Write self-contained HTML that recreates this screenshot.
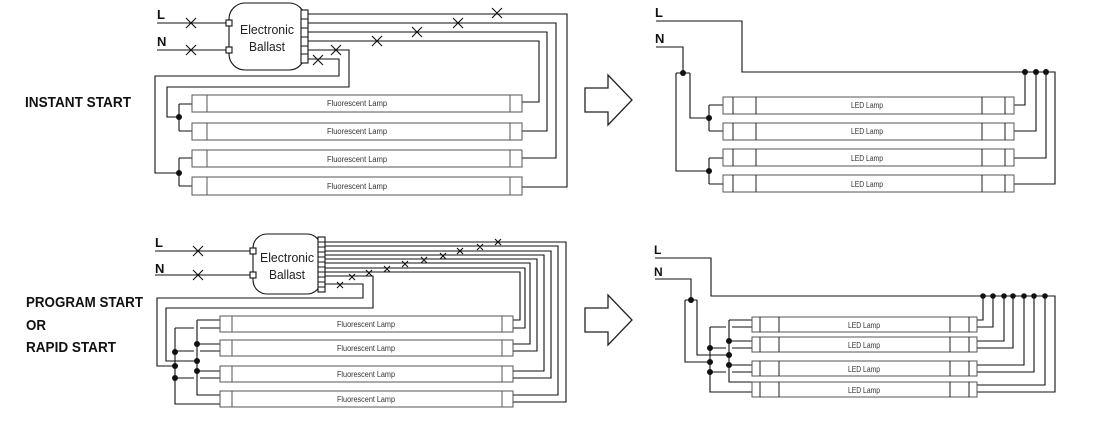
<!DOCTYPE html>
<html><head><meta charset="utf-8"><style>
html,body{margin:0;padding:0;background:#fff;}
svg{display:block;font-family:"Liberation Sans",sans-serif;}
</style></head><body>
<svg width="1094" height="425" viewBox="0 0 1094 425" xmlns="http://www.w3.org/2000/svg">
<g font-weight="bold" font-size="15" fill="#111">
<text x="25" y="107" textLength="106" lengthAdjust="spacingAndGlyphs">INSTANT START</text>
<text x="26" y="307" textLength="117" lengthAdjust="spacingAndGlyphs">PROGRAM START</text>
<text x="26" y="330" textLength="20" lengthAdjust="spacingAndGlyphs">OR</text>
<text x="26" y="352" textLength="90" lengthAdjust="spacingAndGlyphs">RAPID START</text>
<text x="157" y="19" font-size="13">L</text>
<text x="157" y="46" font-size="13">N</text>
<text x="155" y="247" font-size="13">L</text>
<text x="155" y="273" font-size="13">N</text>
<text x="655" y="17" font-size="13">L</text>
<text x="655" y="43" font-size="13">N</text>
<text x="654" y="254" font-size="12">L</text>
<text x="654" y="276" font-size="12">N</text>
</g>

<!-- arrows -->
<g fill="#fff" stroke="#222" stroke-width="1.3">
<polygon points="585,88 608,88 608,75 632,100 608,125 608,112 585,112"/>
<polygon points="585,308 608,308 608,295 632,320 608,345 608,332 585,332"/>
</g>

<g fill="none" stroke="#111" stroke-width="1.1">
<!-- ============ TOP LEFT ============ -->
<path d="M157,23 H228 M157,50 H228"/>
<rect x="229" y="3" width="76" height="67" rx="16"/>
<rect x="226" y="20" width="6" height="6" fill="#fff"/>
<rect x="226" y="47" width="6" height="6" fill="#fff"/>
<rect x="301" y="10" width="7" height="53" fill="#fff"/>
<path d="M301,19 H308 M301,28 H308 M301,37 H308 M301,46 H308 M301,54 H308"/>
<path d="M308,14 H567 V187 H522"/>
<path d="M308,23 H556 V158 H522"/>
<path d="M308,32 H547 V131 H522"/>
<path d="M308,41 H539 V102 H522"/>
<path d="M308,50 H349 V87 H167 V117 H179 M179,104 V131 M179,104 H192 M179,131 H192"/>
<path d="M308,59 H339 V76 H155 V173 H179 M179,158 V186 M179,158 H192 M179,186 H192"/>
<path d="M186,18 L196,28 M196,18 L186,28 M186,45 L196,55 M196,45 L186,55"/>
<path d="M492,8 L502,18 M502,8 L492,18 M453,18 L463,28 M463,18 L453,28 M412,27 L422,37 M422,27 L412,37 M372,36 L382,46 M382,36 L372,46 M331,45 L341,55 M341,45 L331,55 M313,55 L323,65 M323,55 L313,65"/>

<!-- ============ TOP RIGHT ============ -->
<path d="M656,21 H742 V72 H1055 V184 H1014"/>
<path d="M1025,72 V105 H1014 M1036,72 V131 H1014 M1046,72 V158 H1014"/>
<path d="M656,47 H683 V73 M676,73 H690 M676,73 V171 H709 M690,73 V118 H709 M709,105 V131 M709,105 H723 M709,131 H723 M709,158 V184 M709,158 H723 M709,184 H723"/>

<!-- ============ BOTTOM LEFT ============ -->
<path d="M155,251 H251 M155,275 H251"/>
<rect x="253" y="234" width="68" height="60" rx="14"/>
<rect x="250" y="248" width="6" height="6" fill="#fff"/>
<rect x="250" y="272" width="6" height="6" fill="#fff"/>
<rect x="318" y="237" width="7" height="55" fill="#fff"/>
<path d="M318,242 H325 M318,247 H325 M318,252 H325 M318,257 H325 M318,262 H325 M318,267 H325 M318,272 H325 M318,277 H325 M318,282 H325 M318,287 H325"/>
<path d="M325,242 H566 V402 H513"/>
<path d="M325,246 H558 V395 H513"/>
<path d="M325,251 H551 V378 H513"/>
<path d="M325,255 H544 V371 H513"/>
<path d="M325,259 H537 V351 H513"/>
<path d="M325,263 H530 V344 H513"/>
<path d="M325,268 H525 V328 H513"/>
<path d="M325,272 H520 V320 H513"/>
<path d="M325,276 H373 V308 H166 V361 H197"/>
<path d="M325,284 H363 V298 H157 V366 H175"/>
<path d="M197,320 V395 H220 M197,320 H220 M175,328 V404 H220 M175,328 H194 M200,328 H220 M197,344 H220 M175,351 H194 M200,351 H220 M197,371 H220 M200,378 H220 M175,378 H194"/>
<path d="M193,246 L203,256 M203,246 L193,256 M193,270 L203,280 M203,270 L193,280"/>
<path d="M495,239 L501,245 M501,239 L495,245 M477,244 L483,250 M483,244 L477,250 M457,248 L463,254 M463,248 L457,254 M440,253 L446,259 M446,253 L440,259 M421,257 L427,263 M427,257 L421,263 M402,261 L408,267 M408,261 L402,267 M384,266 L390,272 M390,266 L384,272 M366,270 L372,276 M372,270 L366,276 M349,274 L355,280 M355,274 L349,280 M337,282 L343,288 M343,282 L337,288"/>

<!-- ============ BOTTOM RIGHT ============ -->
<path d="M655,258 H711 V296 H1055 V392 H977"/>
<path d="M983,296 V320 H977 M993,296 V327 H977 M1004,296 V341 H977 M1013,296 V348 H977 M1024,296 V365 H977 M1034,296 V372 H977 M1045,296 V385 H977"/>
<path d="M655,279 H691 V300 M685,300 H697 M685,300 V362 H710 M697,300 V355 H729"/>
<path d="M729,320 V382 H752 M729,320 H752 M710,327 V392 H752 M710,327 H726 M732,327 H752 M729,341 H752 M710,348 H726 M732,348 H752 M729,365 H752 M710,372 H726 M732,372 H752"/>
</g>

<!-- dots -->
<g fill="#111">
<circle cx="179" cy="117" r="3"/><circle cx="179" cy="173" r="3"/>
<circle cx="683" cy="73" r="3"/><circle cx="709" cy="118" r="3"/><circle cx="709" cy="171" r="3"/>
<circle cx="1025" cy="72" r="3"/><circle cx="1036" cy="72" r="3"/><circle cx="1046" cy="72" r="3"/>
<circle cx="197" cy="344" r="3"/><circle cx="197" cy="361" r="3"/><circle cx="197" cy="371" r="3"/>
<circle cx="175" cy="352" r="3"/><circle cx="175" cy="366" r="3"/><circle cx="175" cy="378" r="3"/>
<circle cx="691" cy="300" r="3"/>
<circle cx="729" cy="341" r="3"/><circle cx="729" cy="355" r="3"/><circle cx="729" cy="365" r="3"/>
<circle cx="710" cy="348" r="3"/><circle cx="710" cy="362" r="3"/><circle cx="710" cy="372" r="3"/>
<circle cx="983" cy="296" r="2.8"/><circle cx="993" cy="296" r="2.8"/><circle cx="1004" cy="296" r="2.8"/><circle cx="1013" cy="296" r="2.8"/><circle cx="1024" cy="296" r="2.8"/><circle cx="1034" cy="296" r="2.8"/><circle cx="1045" cy="296" r="2.8"/>
</g>

<!-- Ballast text -->
<g font-size="13" fill="#222" text-anchor="middle">
<text x="267" y="34" textLength="54" lengthAdjust="spacingAndGlyphs">Electronic</text>
<text x="267" y="51" textLength="36" lengthAdjust="spacingAndGlyphs">Ballast</text>
<text x="287" y="262" textLength="54" lengthAdjust="spacingAndGlyphs">Electronic</text>
<text x="287" y="279" textLength="36" lengthAdjust="spacingAndGlyphs">Ballast</text>
</g>

<!-- Lamps -->
<g fill="#fff" stroke="#555" stroke-width="1">
<!-- top-left fluorescent -->
<rect x="192" y="95" width="330" height="17"/><rect x="192" y="123" width="330" height="17"/><rect x="192" y="150" width="330" height="17"/><rect x="192" y="177" width="330" height="18"/>
<path d="M207,95 V112 M510,95 V112 M207,123 V140 M510,123 V140 M207,150 V167 M510,150 V167 M207,177 V195 M510,177 V195"/>
<!-- top-right LED -->
<rect x="723" y="97" width="291" height="17"/><rect x="723" y="123" width="291" height="17"/><rect x="723" y="149" width="291" height="17"/><rect x="723" y="175" width="291" height="17"/>
<path stroke="#222" d="M733,97 V114 M756,97 V114 M982,97 V114 M1005,97 V114 M733,123 V140 M756,123 V140 M982,123 V140 M1005,123 V140 M733,149 V166 M756,149 V166 M982,149 V166 M1005,149 V166 M733,175 V192 M756,175 V192 M982,175 V192 M1005,175 V192"/>
<!-- bottom-left fluorescent -->
<rect x="220" y="316" width="293" height="16"/><rect x="220" y="340" width="293" height="16"/><rect x="220" y="366" width="293" height="16"/><rect x="220" y="391" width="293" height="16"/>
<path d="M232,316 V332 M502,316 V332 M232,340 V356 M502,340 V356 M232,366 V382 M502,366 V382 M232,391 V407 M502,391 V407"/>
<!-- bottom-right LED -->
<rect x="752" y="317" width="225" height="15"/><rect x="752" y="337" width="225" height="15"/><rect x="752" y="361" width="225" height="15"/><rect x="752" y="382" width="225" height="15"/>
<path stroke="#222" d="M760,317 V332 M779,317 V332 M950,317 V332 M969,317 V332 M760,337 V352 M779,337 V352 M950,337 V352 M969,337 V352 M760,361 V376 M779,361 V376 M950,361 V376 M969,361 V376 M760,382 V397 M779,382 V397 M950,382 V397 M969,382 V397"/>
</g>

<g font-size="8" fill="#333" text-anchor="middle">
<text x="357" y="106" textLength="60" lengthAdjust="spacingAndGlyphs">Fluorescent Lamp</text>
<text x="357" y="134" textLength="60" lengthAdjust="spacingAndGlyphs">Fluorescent Lamp</text>
<text x="357" y="162" textLength="60" lengthAdjust="spacingAndGlyphs">Fluorescent Lamp</text>
<text x="357" y="189" textLength="60" lengthAdjust="spacingAndGlyphs">Fluorescent Lamp</text>
<text x="366" y="327" textLength="58" lengthAdjust="spacingAndGlyphs">Fluorescent Lamp</text>
<text x="366" y="351" textLength="58" lengthAdjust="spacingAndGlyphs">Fluorescent Lamp</text>
<text x="366" y="377" textLength="58" lengthAdjust="spacingAndGlyphs">Fluorescent Lamp</text>
<text x="366" y="402" textLength="58" lengthAdjust="spacingAndGlyphs">Fluorescent Lamp</text>
<text x="867" y="108" textLength="32" lengthAdjust="spacingAndGlyphs">LED Lamp</text>
<text x="867" y="134" textLength="32" lengthAdjust="spacingAndGlyphs">LED Lamp</text>
<text x="867" y="161" textLength="32" lengthAdjust="spacingAndGlyphs">LED Lamp</text>
<text x="867" y="187" textLength="32" lengthAdjust="spacingAndGlyphs">LED Lamp</text>
<text x="864" y="328" textLength="32" lengthAdjust="spacingAndGlyphs">LED Lamp</text>
<text x="864" y="348" textLength="32" lengthAdjust="spacingAndGlyphs">LED Lamp</text>
<text x="864" y="372" textLength="32" lengthAdjust="spacingAndGlyphs">LED Lamp</text>
<text x="864" y="393" textLength="32" lengthAdjust="spacingAndGlyphs">LED Lamp</text>
</g>
</svg>
</body></html>
